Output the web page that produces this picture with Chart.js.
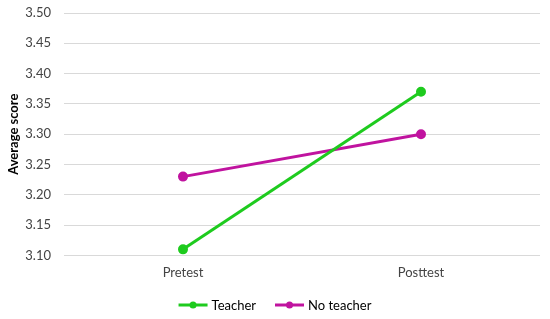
<!DOCTYPE html>
<html>
<head>
<meta charset="utf-8">
<script src="https://cdn.jsdelivr.net/npm/chart.js@4"></script>
<style>
  html, body { margin: 0; padding: 0; background: #fff; }
  #wrap { width: 550px; height: 319px; }
</style>
</head>
<body>
<div id="wrap"><canvas id="lineChart"></canvas></div>
<script>
// data
const categories = ["Pretest", "Posttest"];
const teacherScores = [3.11, 3.37];
const noTeacherScores = [3.23, 3.30];
const seriesNames = ["Teacher", "No teacher"];
const seriesColors = ["#1ECB1E", "#C0139F"];

const FONT = "Lato, 'Open Sans', sans-serif";

// legend drawn as line + dot, like the original
const lineLegend = {
    id: "lineLegend",
    afterDraw(chart) {
        const ctx = chart.ctx;
        const y = 305;
        ctx.save();
        ctx.font = "13px " + FONT;
        ctx.textBaseline = "middle";
        const items = chart.data.datasets.map(ds => ({
            label: ds.label,
            color: ds.borderColor,
            w: 30 + 3 + ctx.measureText(ds.label).width
        }));
        const gap = 19;
        const total = items.reduce((s, it) => s + it.w, 0) + gap * (items.length - 1);
        let x = (chart.width - total) / 2;
        items.forEach(it => {
            ctx.strokeStyle = it.color;
            ctx.lineWidth = 3;
            ctx.beginPath();
            ctx.moveTo(x, y);
            ctx.lineTo(x + 29, y);
            ctx.stroke();
            ctx.fillStyle = it.color;
            ctx.beginPath();
            ctx.arc(x + 14.5, y, 3.5, 0, Math.PI * 2);
            ctx.fill();
            ctx.fillStyle = "#000";
            ctx.textAlign = "left";
            ctx.fillText(it.label, x + 33, y + 1);
            x += it.w + gap;
        });
        ctx.restore();
    }
};

const ctx = document.getElementById("lineChart").getContext("2d");

new Chart(ctx, {
    type: "line",
    data: {
        labels: categories,
        datasets: [
            {
                label: seriesNames[0],
                data: teacherScores,
                borderColor: seriesColors[0],
                backgroundColor: seriesColors[0],
                borderWidth: 3,
                pointRadius: 3.5,
                pointHoverRadius: 3.5
            },
            {
                label: seriesNames[1],
                data: noTeacherScores,
                borderColor: seriesColors[1],
                backgroundColor: seriesColors[1],
                borderWidth: 3,
                pointRadius: 3.5,
                pointHoverRadius: 3.5
            }
        ]
    },
    options: {
        responsive: true,
        maintainAspectRatio: false,
        animation: false,
        layout: {
            padding: { top: 13, right: 10, bottom: 28, left: 6 }
        },
        plugins: {
            legend: { display: false },
            tooltip: { enabled: false }
        },
        scales: {
            x: {
                offset: true,
                grid: { display: false, drawTicks: false },
                border: { display: false },
                ticks: {
                    color: "#444",
                    font: { family: FONT, size: 13 },
                    padding: 10
                }
            },
            y: {
                min: 3.10,
                max: 3.50,
                afterFit: scale => {
                    scale.width = 58;
                    scale.paddingTop = 0;
                    scale.paddingBottom = 0;
                },
                grid: { color: "#d9d9d9", lineWidth: 1, drawTicks: false },
                border: { display: false },
                ticks: {
                    stepSize: 0.05,
                    color: "#444",
                    font: { family: FONT, size: 13 },
                    padding: 13,
                    callback: v => v.toFixed(2)
                },
                title: {
                    display: true,
                    text: "Average score",
                    color: "#000",
                    font: { family: FONT, size: 13, weight: "bold" },
                    padding: 0
                }
            }
        }
    },
    plugins: [lineLegend]
});
</script>
</body>
</html>
